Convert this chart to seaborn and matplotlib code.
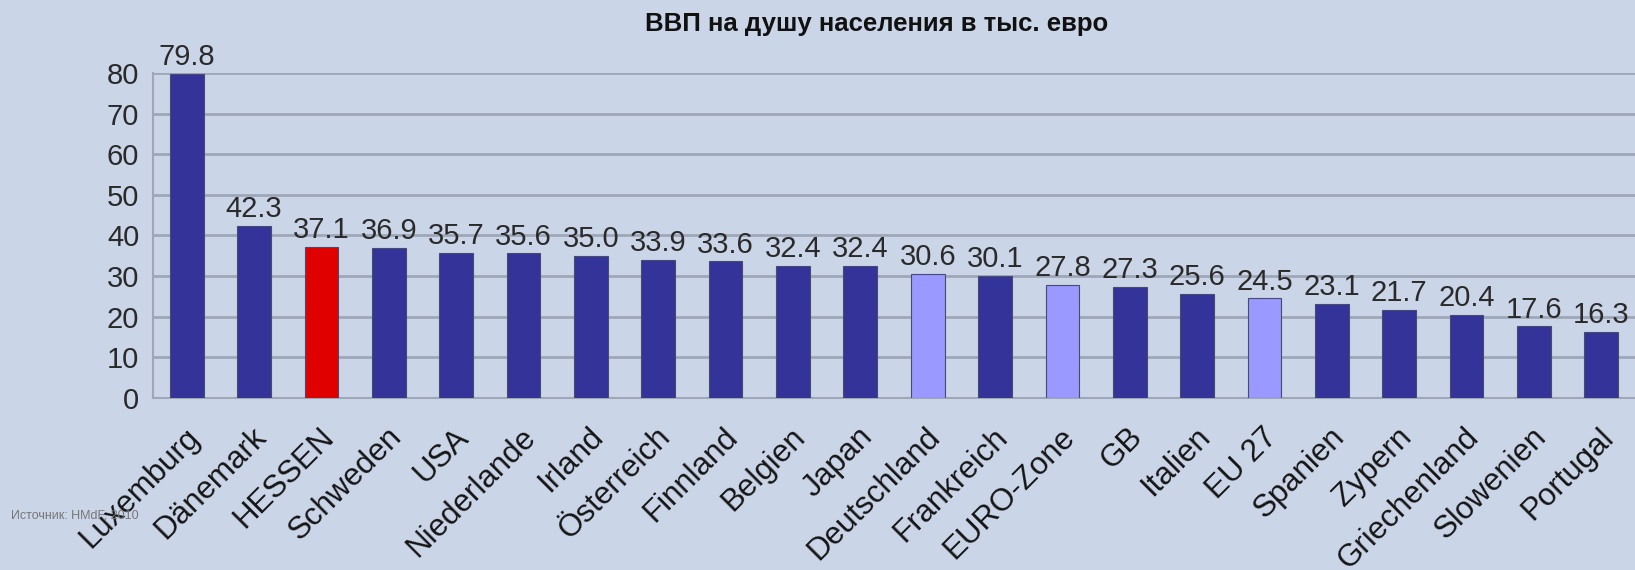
import matplotlib
matplotlib.use("Agg")
import matplotlib.pyplot as plt
import matplotlib.transforms as mtransforms
import numpy as np
import pandas as pd
import seaborn as sns

# Werte
laender = ["Luxemburg", "Dänemark", "HESSEN", "Schweden", "USA", "Niederlande",
           "Irland", "Österreich", "Finnland", "Belgien", "Japan", "Deutschland",
           "Frankreich", "EURO-Zone", "GB", "Italien", "EU 27", "Spanien",
           "Zypern", "Griechenland", "Slowenien", "Portugal"]
bip = [79.8, 42.3, 37.1, 36.9, 35.7, 35.6, 35.0, 33.9, 33.6, 32.4, 32.4, 30.6,
       30.1, 27.8, 27.3, 25.6, 24.5, 23.1, 21.7, 20.4, 17.6, 16.3]
gruppe = ["land", "land", "hessen", "land", "land", "land", "land", "land",
          "land", "land", "land", "aggregat", "land", "aggregat", "land", "land",
          "aggregat", "land", "land", "land", "land", "land"]
y_ticks = [0, 10, 20, 30, 40, 50, 60, 70, 80]

farben = {"land": "#333399", "hessen": "#E00000", "aggregat": "#9999FF"}
bg = "#CBD5E8"
grid_col = "#9EA7B8"

df = pd.DataFrame({"land": laender, "bip": bip, "gruppe": gruppe})
palette = {l: farben[g] for l, g in zip(laender, gruppe)}

sns.set_style("white")
plt.rcParams['font.family'] = ['Liberation Sans', 'DejaVu Sans']

fig = plt.figure(figsize=(16.35, 5.7), dpi=100, facecolor=bg)
ax = fig.add_axes([0.0936, 0.302, 0.9064, 0.570])
ax.set_facecolor(bg)

sns.barplot(data=df, x="land", y="bip", hue="land", palette=palette,
            width=0.5, legend=False, ax=ax, edgecolor="#4a4a6a", linewidth=0.8,
            saturation=1, zorder=3)

for c in ax.containers:
    ax.bar_label(c, fmt="%.1f", padding=2, fontsize=21, color="#2a2a2a")

ax.set_ylim(0, 80)
ax.set_xlim(-0.5, 21.36)
ax.set_yticks(y_ticks)
ax.yaxis.grid(True, color=grid_col, linewidth=2, zorder=0)
ax.set_axisbelow(True)

ax.set_xticks(np.arange(len(laender)))
ax.set_xticklabels(laender, rotation=45, ha="right", va="center",
                   rotation_mode="anchor", fontsize=22.5, color="#151515")
ax.set_xticks(np.arange(len(laender) + 1) - 0.5, minor=True)
ax.tick_params(axis="x", which="major", length=0, pad=25)
ax.tick_params(axis="x", which="minor", length=8, width=1.5, color=grid_col)
ax.tick_params(axis="y", length=6, width=1.5, color=grid_col, labelsize=21,
               labelcolor="#2a2a2a", pad=4)

# Beschriftungen etwas nach rechts schieben (nach tick_params, sonst zurueckgesetzt)
versatz = mtransforms.ScaledTranslation(8 / 100, 0, fig.dpi_scale_trans)
for lab in ax.get_xticklabels():
    lab.set_transform(lab.get_transform() + versatz)

for s in ["top", "right"]:
    ax.spines[s].set_visible(False)
for s in ["left", "bottom"]:
    ax.spines[s].set_color(grid_col)
    ax.spines[s].set_linewidth(1.5)
ax.set_xlabel("")
ax.set_ylabel("")

fig.text(0.536, 0.958, "ВВП на душу населения в тыс. евро", ha="center",
         va="center", fontsize=18.5, fontweight="bold", color="#111111")
fig.text(0.007, 0.095, "Источник: HMdF, 2010", fontsize=9, color="#777777",
         ha="left", va="center")

fig.savefig("out.png", dpi=100, facecolor=bg)
